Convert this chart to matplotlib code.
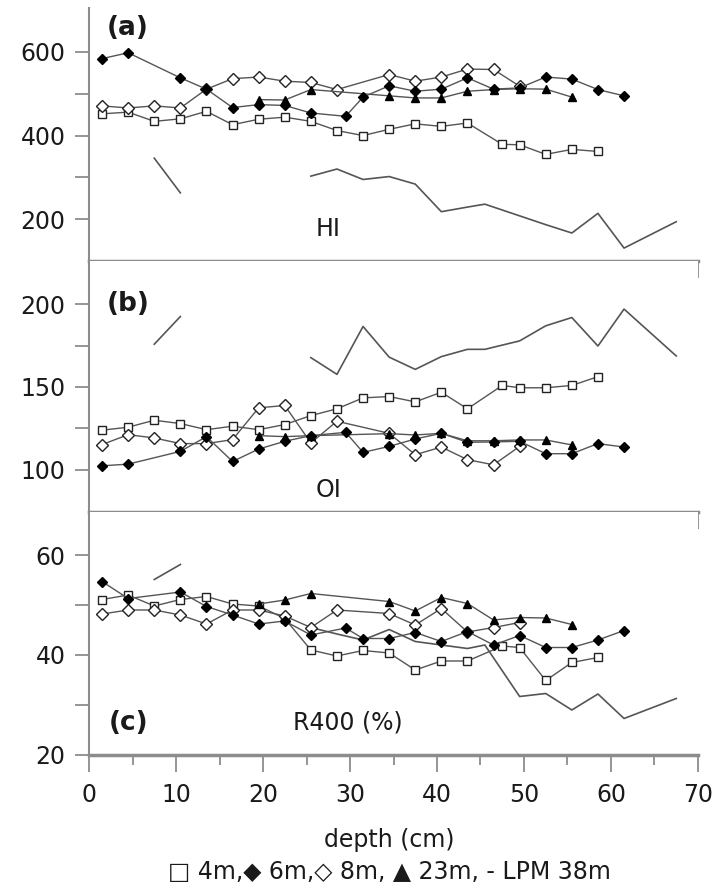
import numpy as np
import matplotlib
matplotlib.use("Agg")
import matplotlib.pyplot as plt
from matplotlib.ticker import MultipleLocator, FixedLocator

plt.rcParams["font.family"] = ["DejaVu Sans"]

# depths (cm) of each core
d4 = [1.5, 4.5, 7.5, 10.5, 13.5, 16.5, 19.5, 22.5, 25.5, 28.5, 31.5, 34.5, 37.5, 40.5, 43.5, 47.5, 49.5, 52.5, 55.5, 58.5]
d6 = [1.5, 4.5, 10.5, 13.5, 16.5, 19.5, 22.5, 25.5, 29.5, 31.5, 34.5, 37.5, 40.5, 43.5, 46.5, 49.5, 52.5, 55.5, 58.5, 61.5]
d8 = [1.5, 4.5, 7.5, 10.5, 13.5, 16.5, 19.5, 22.5, 25.5, 28.5, 34.5, 37.5, 40.5, 43.5, 46.5, 49.5]
d23 = [19.5, 22.5, 25.5, 34.5, 37.5, 40.5, 43.5, 46.5, 49.5, 52.5, 55.5]
d_lpm = [7.5, 10.5, np.nan, 25.5, 28.5, 31.5, 34.5, 37.5, 40.5, 43.5, 45.5, 49.5, 52.5, 55.5, 58.5, 61.5, 67.5]

# (a) HI
hi_4 = [452, 456, 434, 440, 458, 426, 439, 444, 434, 412, 400, 415, 428, 422, 430, 379, 378, 355, 367, 362]
hi_6 = [584, 598, 538, 511, 467, 474, 472, 454, 446, 492, 519, 506, 511, 538, 511, 514, 540, 535, 510, 495]
hi_8 = [471, 466, 471, 466, 511, 536, 540, 530, 527, 510, 546, 530, 540, 559, 558, 518]
hi_23 = [486, 485, 510, 495, 490, 490, 506, 510, 512, 511, 492]
hi_lpm = [346, 263, np.nan, 303, 320, 295, 302, 284, 218, 229, 236, 208, 187, 167, 214, 131, 194]

# (b) OI
oi_4 = [123.9, 125.7, 129.9, 127.9, 124.2, 126.3, 124.2, 127.3, 132.7, 136.8, 143.4, 144.2, 141, 146.8, 136.8, 150.9, 149.5, 149.5, 150.9, 156.2]
oi_6 = [102.4, 103.4, 111.1, 120, 105, 112.5, 117.2, 120.6, 122.6, 110.5, 114.1, 118.6, 122, 116.6, 116.8, 117.2, 109.7, 109.7, 115.8, 113.7]
oi_8 = [115.2, 121.2, 119.2, 115.8, 115.8, 118.2, 137.4, 138.8, 116.2, 129.3, 122, 109.1, 113.7, 106.1, 103, 114.1]
oi_23 = [120.6, 120, 120.6, 121.8, 121, 122, 117.5, 117.5, 118, 118, 115]
oi_lpm = [175.8, 192.5, np.nan, 167.7, 157.6, 186.5, 168, 160.6, 168.3, 172.7, 172.7, 177.8, 186.9, 191.9, 174.7, 197, 168.7]

# (c) R400 (%)
r_4 = [51.1, 52, 49.8, 51.1, 51.7, 50.2, 49.8, 47.3, 41, 39.8, 40.9, 40.4, 37, 38.8, 38.8, 41.8, 41.5, 34.9, 38.5, 39.5]
r_6 = [54.7, 51.3, 52.6, 49.7, 48.0, 46.2, 46.8, 44.0, 45.4, 43.3, 43.3, 44.5, 42.7, 44.7, 42.0, 43.9, 41.5, 41.5, 43.0, 44.9]
r_8 = [48.2, 49, 49, 48, 46.2, 49, 49, 47.8, 45.5, 49, 48.3, 46, 49.3, 44.6, 45.5, 46.5]
r_23 = [50.2, 51, 52.3, 50.7, 48.8, 51.5, 50.3, 47, 47.5, 47.4, 46.1]
r_lpm = [55.1, 58.1, np.nan, 45.5, 44.2, 43.0, 45.1, 42.7, 42.0, 41.3, 42.0, 31.7, 32.3, 29.0, 32.2, 27.3, 31.3]

panels = [
    ("(a)", "HI", (100, 705), [200, 400, 600], [300, 500], hi_4, hi_6, hi_8, hi_23, hi_lpm),
    ("(b)", "OI", (74.5, 226), [100, 150, 200], [125, 175], oi_4, oi_6, oi_8, oi_23, oi_lpm),
    ("(c)", "R400 (%)", (20, 68.6), [20, 40, 60], [30, 50], r_4, r_6, r_8, r_23, r_lpm),
]
label_pos = [((4.5, 657), (27.5, 176)), ((4.5, 200), (27.5, 88)), ((4.5, 26.4), (29.8, 26.4))]

fig = plt.figure(figsize=(7.15, 8.9), dpi=100)
rects = [[0.1245, 0.7067, 0.8517, 0.2843],
         [0.1245, 0.4247, 0.8517, 0.2820],
         [0.1245, 0.1517, 0.8517, 0.2730]]

LINE = "#555555"
AXC = "#8c8c8c"
TXT = "#1a1a1a"

for i, (tag, name, ylim, yt, ym, s4, s6, s8, s23, slpm) in enumerate(panels):
    ax = fig.add_axes(rects[i])
    ax.plot(d_lpm, slpm, color=LINE, lw=1.2, zorder=2)
    ax.plot(d4, s4, color=LINE, lw=1.0, marker="s", ms=6.2, mfc="white", mec="#222222", mew=1.0, zorder=3)
    ax.plot(d8, s8, color=LINE, lw=1.0, marker="D", ms=5.8, mfc="white", mec="#222222", mew=1.0, zorder=3)
    ax.plot(d23, s23, color=LINE, lw=1.0, marker="^", ms=6, mfc="black", mec="black", zorder=4)
    ax.plot(d6, s6, color=LINE, lw=1.0, marker="D", ms=5.5, mfc="black", mec="black", zorder=4)

    ax.set_xlim(0, 70)
    ax.set_ylim(*ylim)
    for s in ["top", "right"]:
        ax.spines[s].set_visible(False)
    ax.spines["left"].set_color(AXC)
    ax.spines["left"].set_linewidth(1.5)
    ax.spines["bottom"].set_color(AXC)
    ax.spines["bottom"].set_linewidth(2.5)

    ax.xaxis.set_major_locator(MultipleLocator(10))
    ax.xaxis.set_minor_locator(MultipleLocator(5))
    ax.yaxis.set_major_locator(FixedLocator(yt))
    ax.yaxis.set_minor_locator(FixedLocator(ym))
    ax.tick_params(axis="y", which="both", direction="out", length=10, width=1.3, color=AXC,
                   labelsize=17, pad=7, labelcolor=TXT)
    ax.tick_params(axis="x", which="major", direction="out", length=12, width=1.3, color=AXC,
                   labelsize=17, pad=8, labelcolor=TXT)
    ax.tick_params(axis="x", which="minor", direction="out", length=7, width=1.3, color=AXC)
    if i < 2:
        ax.tick_params(axis="x", labelbottom=False)

    (tx, ty), (nx, ny) = label_pos[i]
    ax.text(tx, ty, tag, fontsize=19, fontweight="bold", ha="center", va="center", color=TXT)
    ax.text(nx, ny, name, fontsize=17, ha="center", va="center", color=TXT)

fig.text(0.545, 0.056, "depth (cm)", fontsize=17, ha="center", va="center", color=TXT)
fig.text(0.545, 0.020, "\u25a1 4m,\u25c6 6m,\u25c7 8m, \u25b2 23m, - LPM 38m", fontsize=17,
         ha="center", va="center", color=TXT)

fig.savefig("out.png", dpi=100)
